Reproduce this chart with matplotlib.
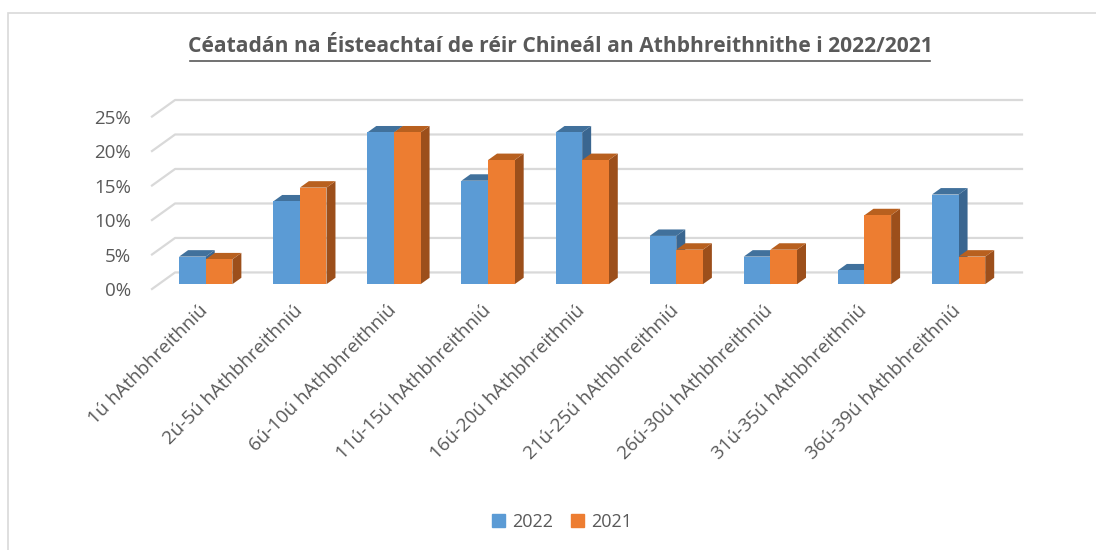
import matplotlib
matplotlib.use("Agg")
import matplotlib.pyplot as plt
from matplotlib.patches import Polygon, Rectangle
from matplotlib.lines import Line2D

CATEGORIES = ["1ú hAthbhreithniú", "2ú-5ú hAthbhreithniú", "6ú-10ú hAthbhreithniú",
              "11ú-15ú hAthbhreithniú", "16ú-20ú hAthbhreithniú", "21ú-25ú hAthbhreithniú",
              "26ú-30ú hAthbhreithniú", "31ú-35ú hAthbhreithniú", "36ú-39ú hAthbhreithniú"]
VALS_2022 = [4, 12, 22, 15, 22, 7, 4, 2, 13]
VALS_2021 = [3.6, 14, 22, 18, 18, 5, 5, 10, 4]
YTICKS = [0, 5, 10, 15, 20, 25]
TITLE = "Céatadán na Éisteachtaí de réir Chineál an Athbhreithnithe i 2022/2021"

# colours: front, top, side
BLUE = ("#5b9bd5", "#41719c", "#3a6690")
ORANGE = ("#ed7d31", "#b8601f", "#9c4f1b")
TXT = "#595959"
FONT = ["Open Sans", "DejaVu Sans"]

# oblique "3D" geometry (data units)
WALL_DX, WALL_DY = 0.245, 2.4      # depth of the floor / back wall
BAR_F0, BAR_F1 = 0.29, 0.68        # bar depth as fraction of the wall depth
BAR_W = 0.283

fig = plt.figure(figsize=(10.96, 5.5), dpi=100)
fig.patch.set_facecolor("white")
fig.add_artist(Rectangle((8/1096, -0.1), 1.2, 1 - 13/550 + 0.1, transform=fig.transFigure,
                         fill=False, edgecolor="#d9d9d9", linewidth=1.2))

ax = fig.add_axes([152/1096, (550-289)/550, 870/1096, 189/550])
ax.set_xlim(-0.5, len(CATEGORIES) - 0.5 + WALL_DX)
ax.set_ylim(0, YTICKS[-1] + WALL_DY)
for s in ax.spines.values():
    s.set_visible(False)

# gridlines: diagonal on the side wall + horizontal on the back wall
x_end = len(CATEGORIES) - 0.5 + WALL_DX
for v in YTICKS:
    ax.plot([-0.5, -0.5 + WALL_DX, x_end], [v, v + WALL_DY, v + WALL_DY],
            color="#d9d9d9", linewidth=1.6, zorder=1, clip_on=False)

ox0, oy0 = BAR_F0 * WALL_DX, BAR_F0 * WALL_DY
ddx, ddy = (BAR_F1 - BAR_F0) * WALL_DX, (BAR_F1 - BAR_F0) * WALL_DY


def bar3d(x0, v, cols, z):
    y0 = oy0
    ax.add_patch(Polygon([(x0 + BAR_W, y0), (x0 + BAR_W + ddx, y0 + ddy),
                          (x0 + BAR_W + ddx, y0 + v + ddy), (x0 + BAR_W, y0 + v)],
                         closed=True, facecolor=cols[2], edgecolor="none", zorder=z))
    ax.add_patch(Polygon([(x0, y0 + v), (x0 + BAR_W, y0 + v),
                          (x0 + BAR_W + ddx, y0 + v + ddy), (x0 + ddx, y0 + v + ddy)],
                         closed=True, facecolor=cols[1], edgecolor="none", zorder=z))
    ax.bar(x0, v, width=BAR_W, bottom=y0, align="edge", color=cols[0],
           edgecolor="none", zorder=z)


for i, (a, b) in enumerate(zip(VALS_2022, VALS_2021)):
    xc = i + ox0
    bar3d(xc - BAR_W, a, BLUE, 3 + 2 * i)
    bar3d(xc, b, ORANGE, 4 + 2 * i)

ax.set_yticks(YTICKS)
ax.set_yticklabels([f"{v}%" for v in YTICKS], fontsize=13.5, color=TXT, family=FONT)
ax.set_xticks(range(len(CATEGORIES)))
ax.set_xticklabels(CATEGORIES, rotation=45, ha="right", va="top", rotation_mode="anchor",
                   fontsize=13.5, color=TXT, family=FONT)
ax.tick_params(axis="both", length=0)
ax.tick_params(axis="y", pad=15)
ax.tick_params(axis="x", pad=9)

fig.text(560/1096, 1 - 47/550, TITLE, ha="center", va="center", fontsize=15.1,
         fontweight="bold", color=TXT, family=FONT)
# underline
fig.add_artist(Line2D([190/1096, 930/1096], [1 - 61/550] * 2, color=TXT, linewidth=1.2))

handles = [Rectangle((0, 0), 1, 1, color=BLUE[0]), Rectangle((0, 0), 1, 1, color=ORANGE[0])]
fig.legend(handles, ["2022", "2021"], loc="center", bbox_to_anchor=(562/1096, 1 - 522/550),
           ncol=2, frameon=False, handlelength=0.7, handleheight=0.7, handletextpad=0.4,
           columnspacing=1.0, prop={"family": FONT, "size": 13}, labelcolor=TXT)

fig.savefig("out.png", dpi=100, facecolor="white")
